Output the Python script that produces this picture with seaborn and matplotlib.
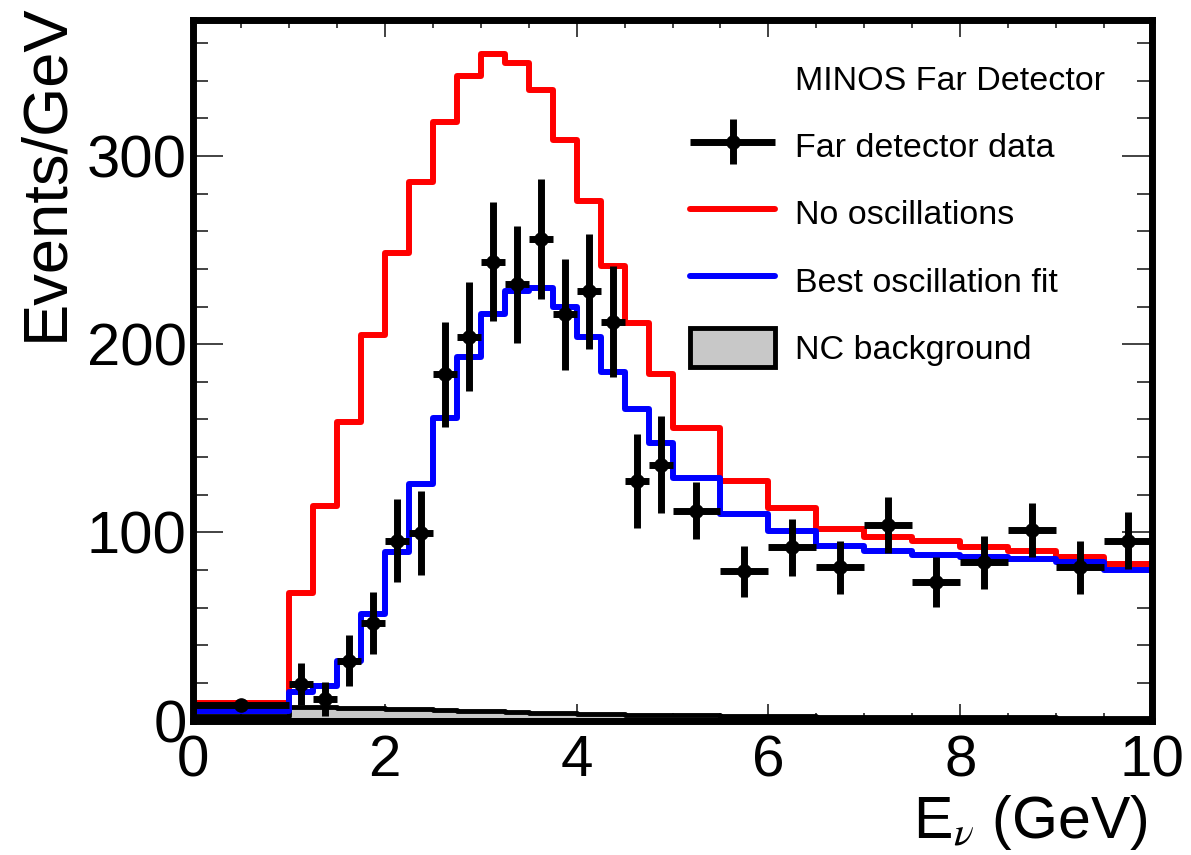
import numpy as np
import pandas as pd
import matplotlib
matplotlib.use("Agg")
import matplotlib.pyplot as plt
import seaborn as sns
from matplotlib.lines import Line2D
from matplotlib.patches import Patch
from matplotlib.ticker import MultipleLocator
from matplotlib.legend_handler import HandlerErrorbar
from matplotlib.container import ErrorbarContainer

# ---------------- data ----------------
bin_edges = [0.0, 1.0, 1.25, 1.5, 1.75, 2.0, 2.25, 2.5, 2.75, 3.0, 3.25, 3.5,
             3.75, 4.0, 4.25, 4.5, 4.75, 5.0, 5.5, 6.0, 6.5, 7.0, 7.5, 8.0,
             8.5, 9.0, 9.5, 10.0]
bin_centers = [0.5, 1.125, 1.375, 1.625, 1.875, 2.125, 2.375, 2.625, 2.875,
               3.125, 3.375, 3.625, 3.875, 4.125, 4.375, 4.625, 4.875,
               5.25, 5.75, 6.25, 6.75, 7.25, 7.75, 8.25, 8.75, 9.25, 9.75]
bin_halfwidth = [0.5, 0.125, 0.125, 0.125, 0.125, 0.125, 0.125, 0.125, 0.125,
                 0.125, 0.125, 0.125, 0.125, 0.125, 0.125, 0.125, 0.125,
                 0.25, 0.25, 0.25, 0.25, 0.25, 0.25, 0.25, 0.25, 0.25, 0.25]

no_oscillations = [9.5, 68, 114, 158.7, 205, 248.6, 286, 318, 342.5, 354,
                   349.5, 335, 308.5, 276, 241.5, 211, 184, 155.7, 127.4,
                   112.7, 102, 97.7, 95.2, 92, 89.9, 87, 83.2]
best_fit = [4.8, 15, 18.6, 31.8, 56.6, 89.6, 125.6, 160.6, 193, 216, 228,
            230, 220, 204, 185, 165.6, 147.7, 129, 110, 100.5, 92.9, 89.9,
            88.1, 86.7, 85.6, 84.2, 80]
nc_background = [2.5, 7.0, 7.0, 6.8, 6.5, 6.2, 5.9, 5.5, 5.2, 4.8, 4.4, 4.1,
                 3.8, 3.6, 3.3, 3.1, 2.9, 2.7, 2.5, 2.3, 2.1, 2.0, 1.8, 1.7,
                 1.6, 1.5, 1.4]
data_values = [8, 19.5, 11.5, 31.8, 51.7, 95.5, 99.6, 184, 204, 243.8, 231.8,
               256, 216, 228, 211.8, 127.4, 135.9, 111.5, 79.3, 92, 81.4,
               103.9, 73.4, 84, 101.4, 81.4, 95.5]
data_errors = [2.8, 11, 9, 13.5, 16.5, 22, 22.5, 28, 29, 31.5, 31, 32, 29.5,
               30.5, 29.5, 25, 25.7, 15, 13.5, 15, 14, 15, 13.3, 14.3, 14.3,
               14, 15.2]

x_ticks = [0, 2, 4, 6, 8, 10]
y_ticks = [0, 100, 200, 300]
legend_labels = ["MINOS Far Detector", "Far detector data", "No oscillations",
                 "Best oscillation fit", "NC background"]

df = pd.DataFrame({"E": bin_centers, "noosc": no_oscillations,
                   "fit": best_fit, "nc": nc_background})

# ---------------- style ----------------
sns.set_theme(style="ticks")
plt.rcParams["font.family"] = ["Liberation Sans", "DejaVu Sans"]
plt.rcParams["mathtext.fontset"] = "stix"
for k in ["text.color", "axes.labelcolor", "xtick.color", "ytick.color",
          "xtick.labelcolor", "ytick.labelcolor"]:
    plt.rcParams[k] = "black"

fig = plt.figure(figsize=(11.91, 8.55), dpi=100)
ax = fig.add_axes([193 / 1191, 1 - 720.5 / 855, (1152 - 193) / 1191, 700 / 855])

RED = "#ff0000"
BLUE = "#0000ff"
GREY = "#c8c8c8"

sns.histplot(data=df, x="E", weights="nc", bins=bin_edges, element="step",
             fill=True, color=GREY, alpha=1, edgecolor="black", linewidth=3.5,
             ax=ax, zorder=1)
sns.histplot(data=df, x="E", weights="noosc", bins=bin_edges, element="step",
             fill=False, color=RED, linewidth=4.3, ax=ax, zorder=2)
sns.histplot(data=df, x="E", weights="fit", bins=bin_edges, element="step",
             fill=False, color=BLUE, linewidth=4.3, ax=ax, zorder=3)
eb = ax.errorbar(bin_centers, data_values, yerr=data_errors, xerr=bin_halfwidth,
                 fmt="o", color="black", ms=9.5, elinewidth=5, capsize=0,
                 zorder=5)

ax.set_xlim(0, 10)
ax.set_ylim(0, 372)
ax.set_xticks(x_ticks)
ax.set_yticks(y_ticks)
ax.xaxis.set_minor_locator(MultipleLocator(0.5))
ax.yaxis.set_minor_locator(MultipleLocator(20))

for s in ax.spines.values():
    s.set_linewidth(5)
    s.set_color("black")
    s.set_zorder(6)

ax.tick_params(which="both", direction="in", top=True, right=True,
               color="#222222", width=1.2)
ax.tick_params(axis="x", which="major", length=12.5, pad=10, labelsize=42,
               labelcolor="black")
ax.tick_params(axis="x", which="minor", length=5.8)
ax.tick_params(axis="y", which="major", length=21.6, pad=4.5, labelsize=43,
               labelcolor="black")
ax.tick_params(axis="y", which="minor", length=10.8)

ax.set_xlabel(r"E$_{\nu}$ (GeV)", fontsize=42.5, ha="right", color="black")
ax.xaxis.set_label_coords(0.995, -0.104)
ax.set_ylabel("Events/GeV", fontsize=45.5, ha="right", color="black")
ax.yaxis.set_label_coords(-0.123, 1.024)

handles = [Line2D([], [], color="none"), eb,
           Line2D([], [], color=RED, lw=4.3),
           Line2D([], [], color=BLUE, lw=4.3),
           Patch(facecolor=GREY, edgecolor="black", linewidth=3.5)]
leg = ax.legend(handles, legend_labels, loc="upper left",
                bbox_to_anchor=((690 - 193) / 959, (720.5 - 59) / 700),
                frameon=False, fontsize=24.5, handlelength=2.5,
                handleheight=1.4, handletextpad=0.59, labelspacing=0.82,
                borderpad=0, borderaxespad=0,
                handler_map={ErrorbarContainer: HandlerErrorbar(xerr_size=1.25,
                                                                yerr_size=0.66)})
for t in leg.get_texts():
    t.set_color("black")

fig.savefig("out.png", dpi=100)
